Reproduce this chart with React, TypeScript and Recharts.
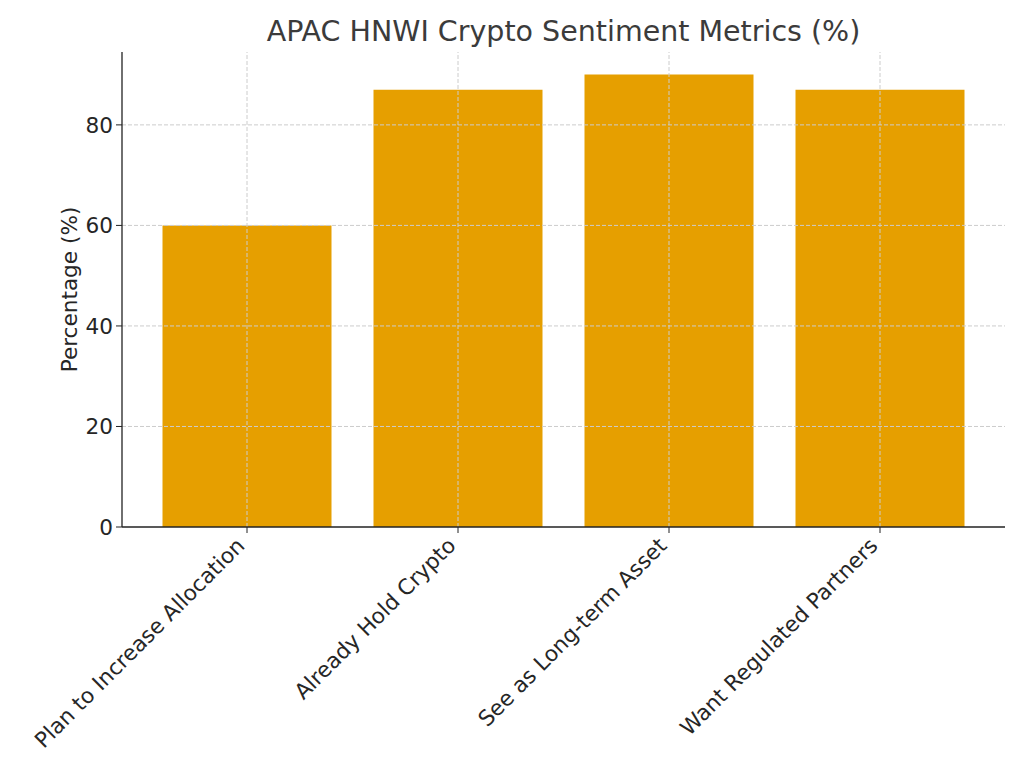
import React from 'react';
import { BarChart, Bar, XAxis, YAxis, ReferenceLine } from 'recharts';

const categories = [
  'Plan to Increase Allocation',
  'Already Hold Crypto',
  'See as Long-term Asset',
  'Want Regulated Partners',
];
const percentages = [60, 87, 90, 87];
const yTicks = [0, 20, 40, 60, 80];

const data = categories.map((name, i) => ({ name, value: percentages[i] }));

const FONT = '"DejaVu Sans", sans-serif';
const GRID = { stroke: '#cccccc', strokeDasharray: '4 2', strokeWidth: 1 };

const XTick = (props: any) => {
  const { x, y, payload } = props;
  const ax = x - 1;
  const ay = y + 12;
  return (
    <text
      x={ax}
      y={ay}
      textAnchor="end"
      fontFamily={FONT}
      fontSize={21.6}
      fill="#262626"
      transform={`rotate(-45, ${ax}, ${ay})`}
    >
      {payload.value}
    </text>
  );
};

const YLabel = (props: any) => {
  const vb = props.viewBox || { x: 0, y: 52, width: 122, height: 475 };
  const cx = vb.x + 69;
  const cy = vb.y + vb.height / 2;
  return (
    <text
      x={cx}
      y={cy}
      textAnchor="middle"
      dominantBaseline="central"
      fontFamily={FONT}
      fontSize={21.6}
      fill="#262626"
      transform={`rotate(-90, ${cx}, ${cy})`}
    >
      Percentage (%)
    </text>
  );
};

export default function App() {
  return (
    <div style={{ position: 'absolute', left: 0, top: 0, width: 1024, height: 768, background: '#fff' }}>
      <div
        style={{
          position: 'absolute',
          left: 122,
          width: 883,
          top: 12,
          textAlign: 'center',
          fontFamily: FONT,
          fontSize: 28.5,
          color: '#3b3b3b',
          lineHeight: '40px',
        }}
      >
        APAC HNWI Crypto Sentiment Metrics (%)
      </div>
      <BarChart
        width={1024}
        height={768}
        data={data}
        margin={{ top: 52, right: 19, left: 0, bottom: 0 }}
      >
        <XAxis
          dataKey="name"
          height={241}
          padding={{ left: 19.5, right: 19.5 }}
          tick={<XTick />}
          tickSize={6}
          axisLine={{ stroke: '#222', strokeWidth: 1.3 }}
          tickLine={{ stroke: '#222', strokeWidth: 1 }}
          interval={0}
        />
        <YAxis
          width={122}
          domain={[0, 94.5]}
          ticks={yTicks}
          tickSize={6}
          tickMargin={3}
          allowDataOverflow
          axisLine={{ stroke: '#222', strokeWidth: 1.3 }}
          tickLine={{ stroke: '#222', strokeWidth: 1 }}
          tick={{ fontFamily: FONT, fontSize: 21.6, fill: '#262626' }}
          label={<YLabel />}
        />
        <Bar dataKey="value" fill="#E69F00" barSize={169} isAnimationActive={false} />
        {yTicks.filter((t) => t > 0).map((t) => (
          <ReferenceLine key={`h${t}`} y={t} {...GRID} />
        ))}
        {categories.map((c) => (
          <ReferenceLine key={`v${c}`} x={c} {...GRID} />
        ))}
      </BarChart>
    </div>
  );
}
